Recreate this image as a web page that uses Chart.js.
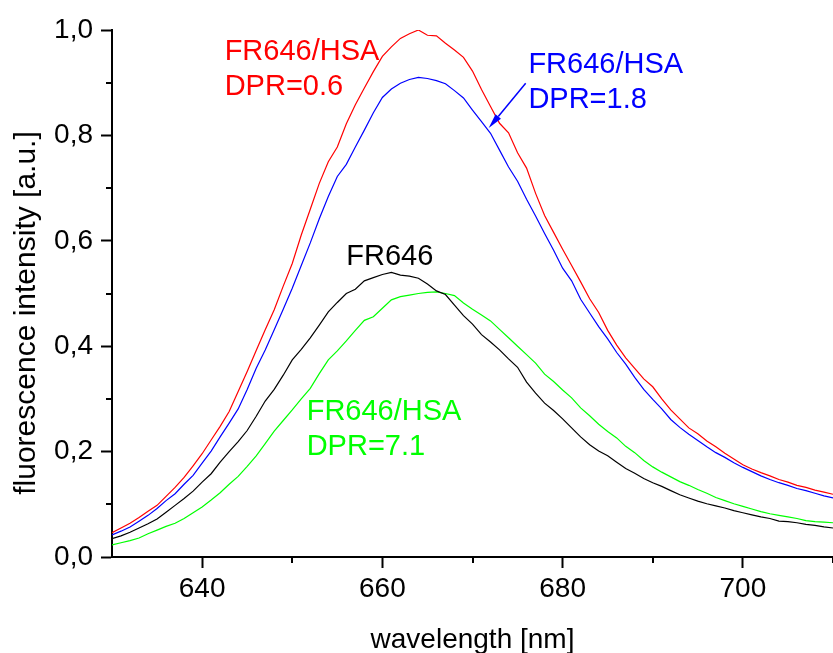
<!DOCTYPE html>
<html>
<head>
<meta charset="utf-8">
<script src="https://cdn.jsdelivr.net/npm/chart.js@4"></script>
<style>
  html, body { margin: 0; padding: 0; background: #fff; overflow: hidden; }
  #wrap { width: 837px; height: 653px; position: relative; }
</style>
</head>
<body>
<div id="wrap"><canvas id="canvas"></canvas></div>
<script>
const wavelengths = [
  630, 631, 632, 633, 634, 635, 636, 637, 638, 639,
  640, 641, 642, 643, 644, 645, 646, 647, 648, 649,
  650, 651, 652, 653, 654, 655, 656, 657, 658, 659,
  660, 661, 662, 663, 664, 665, 666, 667, 668, 669,
  670, 671, 672, 673, 674, 675, 676, 677, 678, 679,
  680, 681, 682, 683, 684, 685, 686, 687, 688, 689,
  690, 691, 692, 693, 694, 695, 696, 697, 698, 699,
  700, 701, 702, 703, 704, 705, 706, 707, 708, 709, 710
];

// FR646/HSA DPR=0.6
const redValues = [
  0.046, 0.055, 0.064, 0.075, 0.087, 0.098, 0.115, 0.132, 0.151, 0.173,
  0.196, 0.222, 0.248, 0.276, 0.314, 0.352, 0.392, 0.431, 0.469, 0.514,
  0.557, 0.611, 0.660, 0.709, 0.750, 0.778, 0.822, 0.858, 0.890, 0.921,
  0.950, 0.968, 0.984, 0.993, 1.000, 0.990, 0.989, 0.975, 0.962, 0.948,
  0.922, 0.887, 0.855, 0.823, 0.805, 0.767, 0.738, 0.690, 0.648, 0.616,
  0.584, 0.553, 0.522, 0.490, 0.464, 0.430, 0.402, 0.378, 0.358, 0.338,
  0.323, 0.300, 0.279, 0.262, 0.245, 0.234, 0.220, 0.209, 0.197, 0.186,
  0.175, 0.167, 0.160, 0.154, 0.147, 0.142, 0.136, 0.132, 0.127, 0.123, 0.119
];

// FR646/HSA DPR=1.8
const blueValues = [
  0.042, 0.049, 0.057, 0.068, 0.079, 0.092, 0.107, 0.120, 0.138, 0.155,
  0.178, 0.201, 0.228, 0.254, 0.281, 0.318, 0.358, 0.393, 0.431, 0.470,
  0.510, 0.553, 0.596, 0.642, 0.684, 0.722, 0.745, 0.778, 0.810, 0.843,
  0.872, 0.888, 0.899, 0.906, 0.910, 0.908, 0.904, 0.898, 0.885, 0.871,
  0.848, 0.826, 0.804, 0.772, 0.740, 0.713, 0.679, 0.647, 0.614, 0.582,
  0.548, 0.524, 0.489, 0.463, 0.437, 0.414, 0.388, 0.366, 0.341, 0.318,
  0.299, 0.281, 0.261, 0.246, 0.233, 0.221, 0.209, 0.198, 0.189, 0.179,
  0.170, 0.162, 0.154, 0.147, 0.141, 0.136, 0.130, 0.126, 0.121, 0.116, 0.112
];

// FR646 free
const blackValues = [
  0.035, 0.040, 0.047, 0.055, 0.063, 0.072, 0.085, 0.098, 0.111, 0.125,
  0.142, 0.158, 0.180, 0.200, 0.219, 0.240, 0.267, 0.296, 0.318, 0.345,
  0.374, 0.394, 0.416, 0.440, 0.465, 0.483, 0.500, 0.508, 0.524, 0.530,
  0.536, 0.540, 0.535, 0.533, 0.529, 0.518, 0.505, 0.498, 0.478, 0.458,
  0.442, 0.422, 0.408, 0.393, 0.376, 0.360, 0.332, 0.311, 0.292, 0.278,
  0.262, 0.245, 0.228, 0.213, 0.201, 0.192, 0.180, 0.168, 0.159, 0.149,
  0.141, 0.134, 0.126, 0.118, 0.112, 0.106, 0.101, 0.097, 0.093, 0.088,
  0.084, 0.080, 0.076, 0.073, 0.068, 0.067, 0.065, 0.062, 0.060, 0.057, 0.055
];

// FR646/HSA DPR=7.1
const greenValues = [
  0.023, 0.027, 0.031, 0.036, 0.044, 0.051, 0.058, 0.064, 0.073, 0.084,
  0.095, 0.108, 0.122, 0.138, 0.153, 0.172, 0.192, 0.215, 0.239, 0.259,
  0.279, 0.300, 0.320, 0.348, 0.374, 0.391, 0.410, 0.430, 0.449, 0.456,
  0.472, 0.488, 0.494, 0.497, 0.500, 0.502, 0.503, 0.500, 0.496, 0.482,
  0.470, 0.459, 0.448, 0.432, 0.416, 0.400, 0.384, 0.368, 0.347, 0.333,
  0.317, 0.302, 0.283, 0.268, 0.252, 0.238, 0.226, 0.210, 0.198, 0.183,
  0.171, 0.161, 0.152, 0.143, 0.136, 0.128, 0.121, 0.113, 0.107, 0.101,
  0.096, 0.091, 0.086, 0.082, 0.079, 0.076, 0.073, 0.069, 0.067, 0.066, 0.065
];

const seriesNames = ["FR646/HSA DPR=0.6", "FR646/HSA DPR=1.8", "FR646", "FR646/HSA DPR=7.1"];
const seriesColors = ["#ff0000", "#0000ff", "#000000", "#00ff00"];

// text labels inside the plot, anchored in data units (left edge, baseline)
const labelLines = [
  ["FR646/HSA", 642.5, 0.943, "#ff0000"],
  ["DPR=0.6", 642.5, 0.877, "#ff0000"],
  ["FR646/HSA", 676.2, 0.918, "#0000ff"],
  ["DPR=1.8", 676.2, 0.852, "#0000ff"],
  ["FR646", 656.0, 0.554, "#000000"],
  ["FR646/HSA", 651.6, 0.260, "#00ff00"],
  ["DPR=7.1", 651.6, 0.194, "#00ff00"]
];
const arrowFrom = [675.9, 0.899];
const arrowTo = [671.8, 0.814];
const yTitle = "fluorescence intensity [a.u.]";

const FONT = "'Liberation Sans', Arial, sans-serif";

function toPoints(values) {
  return wavelengths.map((w, i) => ({ x: w, y: values[i] }));
}

const annotations = {
  id: "annotations",
  afterDatasetsDraw(chart) {
    const ctx = chart.ctx;
    const xs = chart.scales.x;
    const ys = chart.scales.y;
    const area = chart.chartArea;

    ctx.save();
    // minor ticks
    ctx.strokeStyle = "#000";
    ctx.lineWidth = 2;
    ctx.beginPath();
    for (let v = 650; v <= 710; v += 20) {
      const px = Math.round(xs.getPixelForValue(v));
      ctx.moveTo(px, area.bottom);
      ctx.lineTo(px, area.bottom + 6);
    }
    for (let k = 1; k < 10; k += 2) {
      const py = Math.round(ys.getPixelForValue(k / 10));
      ctx.moveTo(area.left, py);
      ctx.lineTo(area.left - 6, py);
    }
    ctx.stroke();

    // y axis title (drawn here so it can sit a little below centre, as in the original)
    ctx.save();
    ctx.translate(35, 313);
    ctx.rotate(-Math.PI / 2);
    ctx.font = "30px " + FONT;
    ctx.fillStyle = "#000";
    ctx.textAlign = "center";
    ctx.textBaseline = "alphabetic";
    ctx.fillText(yTitle, 0, 0);
    ctx.restore();

    // labels
    ctx.font = "29px " + FONT;
    ctx.textAlign = "left";
    ctx.textBaseline = "alphabetic";
    for (let [text, x, y, color] of labelLines) {
      ctx.fillStyle = color;
      ctx.fillText(text, xs.getPixelForValue(x), ys.getPixelForValue(y));
    }

    // arrow
    const x1 = xs.getPixelForValue(arrowFrom[0]);
    const y1 = ys.getPixelForValue(arrowFrom[1]);
    const x2 = xs.getPixelForValue(arrowTo[0]);
    const y2 = ys.getPixelForValue(arrowTo[1]);
    const ang = Math.atan2(y2 - y1, x2 - x1);
    const len = 15;
    const half = 3.5;
    const bx = x2 - len * Math.cos(ang);
    const by = y2 - len * Math.sin(ang);
    ctx.strokeStyle = "#0000ff";
    ctx.fillStyle = "#0000ff";
    ctx.lineWidth = 1.5;
    ctx.beginPath();
    ctx.moveTo(x1, y1);
    ctx.lineTo(bx, by);
    ctx.stroke();
    ctx.beginPath();
    ctx.moveTo(x2, y2);
    ctx.lineTo(bx + half * Math.sin(ang), by - half * Math.cos(ang));
    ctx.lineTo(bx - half * Math.sin(ang), by + half * Math.cos(ang));
    ctx.closePath();
    ctx.fill();
    ctx.restore();
  }
};

function drawChart() {
  const values = [redValues, blueValues, blackValues, greenValues];
  const datasets = values.map((vals, i) => ({
    label: seriesNames[i],
    data: toPoints(vals),
    borderColor: seriesColors[i],
    borderWidth: 1.2,
    pointRadius: 0,
    tension: 0,
    fill: false
  }));

  const ctx = document.getElementById("canvas").getContext("2d");

  new Chart(ctx, {
    type: "line",
    data: { datasets: datasets },
    options: {
      responsive: true,
      maintainAspectRatio: false,
      animation: false,
      events: [],
      layout: { padding: { top: 30, left: 0, right: 0, bottom: 0 } },
      plugins: {
        legend: { display: false },
        tooltip: { enabled: false }
      },
      scales: {
        x: {
          type: "linear",
          min: 630,
          max: 710,
          afterFit: scale => { scale.height = 96; },
          border: { display: true, color: "#000", width: 2 },
          grid: {
            drawOnChartArea: false,
            drawTicks: true,
            tickLength: 11,
            tickWidth: 2,
            tickColor: c => (Math.round(c.tick.value) % 20 === 0 ? "#000" : "rgba(0,0,0,0)")
          },
          ticks: {
            stepSize: 10,
            maxRotation: 0,
            autoSkip: false,
            padding: 4,
            color: "#000",
            font: { family: FONT, size: 28 },
            callback: v => (Math.round(v) % 20 === 0 ? String(v) : "")
          },
          title: {
            display: true,
            text: "wavelength [nm]",
            color: "#000",
            font: { family: FONT, size: 28, lineHeight: 0.9 },
            padding: { top: 0, bottom: 0 }
          }
        },
        y: {
          min: 0,
          max: 1.0,
          afterFit: scale => { scale.width = 112; },
          border: { display: true, color: "#000", width: 2 },
          grid: {
            drawOnChartArea: false,
            drawTicks: true,
            tickLength: 11,
            tickWidth: 2,
            tickColor: c => (Math.round(c.tick.value * 10) % 2 === 0 ? "#000" : "rgba(0,0,0,0)")
          },
          ticks: {
            stepSize: 0.1,
            autoSkip: false,
            padding: 8,
            color: "#000",
            font: { family: FONT, size: 28 },
            callback: v => (Math.round(v * 10) % 2 === 0 ? v.toFixed(1).replace(".", ",") : "")
          },
          title: { display: false }
        }
      }
    },
    plugins: [annotations]
  });
}

drawChart();
</script>
</body>
</html>
